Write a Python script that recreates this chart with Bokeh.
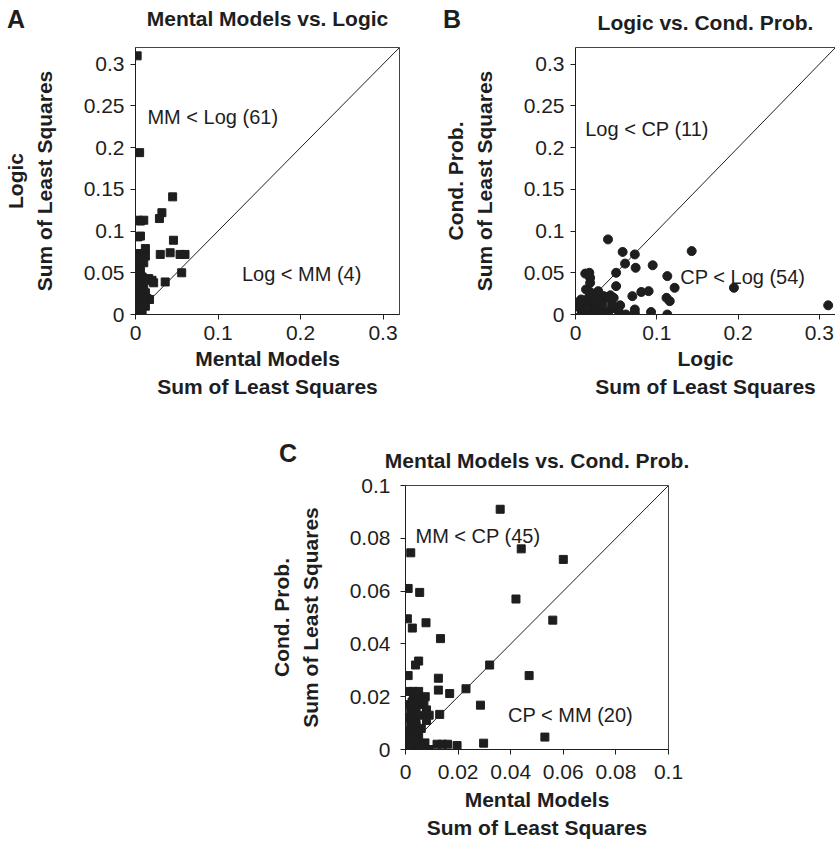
from bokeh.plotting import figure
from bokeh.models import (Label, FixedTicker, CustomJSTickFormatter, Range1d, Spacer, Div,
                          LinearAxis)
from bokeh.layouts import column, row
from bokeh.embed import file_html
from bokeh.resources import INLINE

FONT = "Liberation Sans"
INK = "#1e1e1e"

# ---------------- data ----------------
# Panel A: Mental Models (x) vs Logic (y), sum of least squares
a_mm = [0.002, 0.005, 0.045, 0.032, 0.029, 0.003, 0.006, 0.010, 0.003, 0.006,
        0.046, 0.012, 0.005, 0.012, 0.030, 0.042, 0.054, 0.060, 0.002, 0.010,
        0.002, 0.006, 0.056, 0.002, 0.016, 0.020, 0.022, 0.036, 0.000, 0.006,
        0.010, 0.002, 0.008, 0.014, 0.017, 0.002, 0.006, 0.001, 0.004, 0.010,
        0.003, 0.001, 0.004, 0.007, 0.002, 0.005, 0.001, 0.008, 0.012, 0.004,
        0.008, 0.003, 0.012, 0.006, 0.000, 0.002, 0.009, 0.004, 0.001, 0.011,
        0.003, 0.007, 0.005, 0.002, 0.009]
a_log = [0.310, 0.194, 0.141, 0.122, 0.115, 0.113, 0.112, 0.113, 0.093, 0.094,
         0.089, 0.079, 0.073, 0.070, 0.072, 0.074, 0.072, 0.072, 0.063, 0.062,
         0.054, 0.053, 0.050, 0.046, 0.043, 0.041, 0.038, 0.039, 0.034, 0.032,
         0.036, 0.024, 0.023, 0.019, 0.018, 0.016, 0.011, 0.005, 0.003, 0.013,
         0.040, 0.028, 0.020, 0.015, 0.008, 0.006, 0.001, 0.005, 0.010, 0.058,
         0.045, 0.030, 0.026, 0.002, 0.012, 0.050, 0.028, 0.068, 0.018, 0.021,
         0.037, 0.008, 0.025, 0.042, 0.017]

# Panel B: Logic (x) vs Cond. Prob. (y)
b_log = [0.040, 0.058, 0.073, 0.061, 0.074, 0.095, 0.143, 0.050, 0.113, 0.050,
         0.012, 0.017, 0.018, 0.018, 0.195, 0.122, 0.070, 0.081, 0.090, 0.112,
         0.116, 0.311, 0.055, 0.073, 0.073, 0.093, 0.113, 0.062, 0.007, 0.018,
         0.020, 0.027, 0.035, 0.043, 0.040, 0.030, 0.022, 0.005, 0.010, 0.015,
         0.020, 0.025, 0.030, 0.035, 0.042, 0.048, 0.012, 0.016, 0.024, 0.028,
         0.033, 0.038, 0.045, 0.053, 0.008, 0.013, 0.018, 0.022, 0.026, 0.004,
         0.009, 0.032, 0.047, 0.019, 0.014]
b_cp = [0.090, 0.075, 0.072, 0.061, 0.056, 0.059, 0.076, 0.050, 0.046, 0.034,
        0.049, 0.050, 0.044, 0.038, 0.032, 0.032, 0.022, 0.027, 0.028, 0.020,
        0.016, 0.011, 0.011, 0.006, 0.002, 0.003, 0.000, 0.000, 0.018, 0.027,
        0.022, 0.022, 0.022, 0.023, 0.020, 0.017, 0.014, 0.008, 0.004, 0.001,
        0.006, 0.002, 0.008, 0.003, 0.005, 0.008, 0.012, 0.020, 0.010, 0.028,
        0.012, 0.001, 0.012, 0.004, 0.001, 0.030, 0.006, 0.018, 0.004, 0.015,
        0.010, 0.000, 0.020, 0.025, 0.008]

# Panel C: Mental Models (x) vs Cond. Prob. (y)
c_mm = [0.036, 0.002, 0.044, 0.060, 0.001, 0.0054, 0.042, 0.0007, 0.0026, 0.0078,
        0.056, 0.0133, 0.005, 0.0038, 0.032, 0.001, 0.047, 0.0125, 0.0125, 0.0168,
        0.023, 0.0285, 0.013, 0.053, 0.0297, 0.0196, 0.012, 0.014, 0.016, 0.0074,
        0.009, 0.001, 0.003, 0.005, 0.003, 0.004, 0.002, 0.006, 0.007, 0.008,
        0.009, 0.002, 0.004, 0.001, 0.003, 0.005, 0.001, 0.003, 0.005, 0.002,
        0.006, 0.000, 0.004, 0.007, 0.001, 0.004, 0.0025, 0.006, 0.003, 0.000,
        0.006, 0.008, 0.0015, 0.0045, 0.0075]
c_cp = [0.091, 0.0745, 0.076, 0.072, 0.061, 0.0595, 0.057, 0.0495, 0.046, 0.048,
        0.049, 0.042, 0.0335, 0.032, 0.032, 0.028, 0.028, 0.027, 0.0225, 0.0212,
        0.023, 0.0168, 0.0133, 0.0047, 0.0024, 0.0015, 0.002, 0.002, 0.002, 0.0025,
        0.000, 0.022, 0.022, 0.022, 0.019, 0.016, 0.014, 0.019, 0.017, 0.015,
        0.013, 0.010, 0.009, 0.007, 0.006, 0.005, 0.003, 0.002, 0.001, 0.000,
        0.008, 0.012, 0.011, 0.002, 0.017, 0.004, 0.018, 0.013, 0.013, 0.005,
        0.000, 0.011, 0.0015, 0.007, 0.020]

ticks_ab = [0, 0.1, 0.2, 0.3]
ticks_ab_y = [0, 0.05, 0.1, 0.15, 0.2, 0.25, 0.3]
ticks_c = [0, 0.02, 0.04, 0.06, 0.08, 0.1]

AB_MAX = 0.32
C_MAX = 0.1

fmt = "return (Math.round(tick*1000)/1000).toString();"


def make(width, height, bl, br, bt, bb, xr, yr, xt, yt, xlabel, ylabel, title,
         title_gap, tick_standoff=6, xlab_standoff=4, open_right=False):
    p = figure(width=width, height=height, x_range=Range1d(*xr), y_range=Range1d(*yr),
               output_backend="svg", toolbar_location=None, title=None,
               min_border_left=bl, min_border_right=br, min_border_top=bt,
               min_border_bottom=bb, background_fill_color="white",
               border_fill_color="white",
               outline_line_color=None if open_right else "#444",
               outline_line_width=1)
    p.xgrid.visible = False
    p.ygrid.visible = False
    for ax, t, lab in ((p.xaxis[0], xt, xlabel), (p.yaxis[0], yt, ylabel)):
        ax.ticker = FixedTicker(ticks=t)
        ax.formatter = CustomJSTickFormatter(code=fmt)
        ax.axis_label = lab
        ax.axis_line_color = INK
        ax.major_tick_line_color = INK
        ax.major_tick_in = 0
        ax.major_tick_out = 5
        ax.minor_tick_line_color = None
        ax.major_label_text_font = FONT
        ax.major_label_text_font_size = "21px"
        ax.major_label_text_color = INK
        ax.major_label_standoff = tick_standoff
        ax.axis_label_text_font = FONT
        ax.axis_label_text_font_size = "21px"
        ax.axis_label_text_font_style = "bold"
        ax.axis_label_text_color = INK
        ax.axis_label_text_line_height = 1.25
    p.xaxis[0].axis_label_standoff = xlab_standoff
    p.yaxis[0].axis_label_standoff = 25
    # chart title: label of a tick-less axis above the frame
    tax = LinearAxis(ticker=FixedTicker(ticks=[]), axis_label=title,
                     axis_line_color="#444" if open_right else None,
                     major_tick_line_color=None,
                     minor_tick_line_color=None, major_tick_in=0, major_tick_out=0,
                     minor_tick_in=0, minor_tick_out=0, major_label_standoff=0,
                     axis_label_standoff=title_gap, axis_label_text_font=FONT,
                     axis_label_text_font_size="21px", axis_label_text_font_style="bold",
                     axis_label_text_color=INK)
    p.add_layout(tax, "above")
    return p


def txt(p, x, y, s):
    p.add_layout(Label(x=x, y=y, text=s, text_font=FONT, text_font_size="20px",
                       text_color=INK, text_align="left", text_baseline="alphabetic"))


# ---------------- Panel A ----------------
pA = make(440, 410, 135, 41, 43, 96, (0, AB_MAX), (0, AB_MAX), ticks_ab, ticks_ab_y,
          "Mental Models\nSum of Least Squares", "Logic\nSum of Least Squares",
          "Mental Models vs. Logic", 18)
pA.line([0, AB_MAX], [0, AB_MAX], line_color=INK, line_width=1)
pA.scatter(a_mm, a_log, marker="square", size=8, fill_color=INK, line_color=INK)
txt(pA, 0.0145, 0.237, "MM < Log (61)")
txt(pA, 0.129, 0.048, "Log < MM (4)")

# ---------------- Panel B ----------------
pB = make(395, 410, 133, 0, 47, 95, (0, AB_MAX), (0, AB_MAX), ticks_ab, ticks_ab_y,
          "Logic\nSum of Least Squares", "Cond. Prob.\nSum of Least Squares",
          "Logic vs. Cond. Prob.", 14, open_right=True)
pB.line([0, AB_MAX], [0, AB_MAX], line_color=INK, line_width=1)
pB.scatter(b_log, b_cp, marker="circle", size=9, fill_color=INK, line_color=INK)
txt(pB, 0.012, 0.222, "Log < CP (11)")
txt(pB, 0.129, 0.045, "CP < Log (54)")

# ---------------- Panel C ----------------
pC = make(432, 438, 132, 30, 75, 99, (0, C_MAX), (0, C_MAX), ticks_c, ticks_c,
          "Mental Models\nSum of Least Squares", "Cond. Prob.\nSum of Least Squares",
          "Mental Models vs. Cond. Prob.", 14, tick_standoff=10, xlab_standoff=6)
pC.line([0, C_MAX], [0, C_MAX], line_color=INK, line_width=1)
pC.scatter(c_mm, c_cp, marker="square", size=8, fill_color=INK, line_color=INK)
txt(pC, 0.0038, 0.0808, "MM < CP (45)")
txt(pC, 0.039, 0.013, "CP < MM (20)")

# panel letters (overlay)
letters = [("A", 7, 7), ("B", 443, 7), ("C", 279, 441)]
spans = "".join(
    f'<span style="position:absolute;left:{x}px;top:{y}px;font-family:\'{FONT}\';'
    f'font-weight:bold;font-size:25px;line-height:25px;color:{INK}">{t}</span>'
    for t, x, y in letters)
overlay = Div(text=f'<div style="position:relative;width:835px;height:848px">{spans}</div>',
              width=835, height=848, margin=(-848, 0, 0, 0),
              styles={"pointer-events": "none"})

layout = column(row(pA, pB), row(Spacer(width=266, height=10), pC), overlay)

open("out.html", "w").write(file_html(layout, INLINE))
